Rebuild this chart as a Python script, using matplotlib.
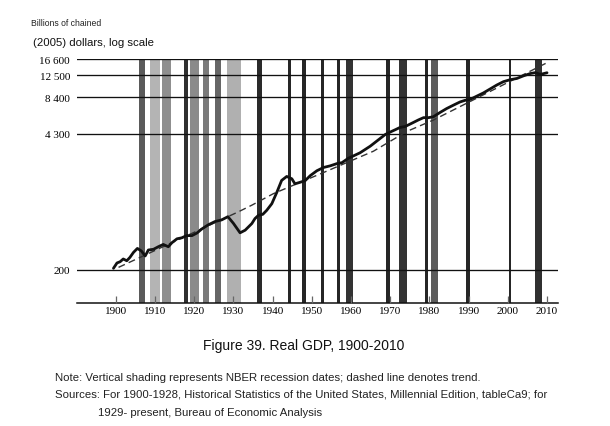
import numpy as np
import matplotlib
matplotlib.use("Agg")
import matplotlib.pyplot as plt

# ---------------- data ----------------
gdp_years = [1899.4, 1900.3, 1901.1, 1901.9, 1902.8, 1903.6, 1904.5, 1905.5, 1906.5, 1907.5,
             1908.3, 1909.6, 1910.9, 1912.1, 1913.4, 1914.3, 1915.6, 1916.8, 1918.1, 1919.4,
             1920.7, 1921.9, 1923.6, 1925.3, 1927.0, 1928.6, 1930.0, 1931.7, 1933.0, 1934.7,
             1935.5, 1936.4, 1937.5, 1938.5, 1939.8, 1941.1, 1942.3, 1943.6, 1944.9, 1945.7,
             1947.0, 1948.3, 1949.6, 1951.3, 1953.0, 1954.7, 1956.4, 1957.7, 1959.3, 1962.3,
             1964.9, 1967.4, 1968.7, 1970.0, 1971.3, 1972.5, 1973.8, 1975.5, 1977.2, 1978.5,
             1979.7, 1981.0, 1982.7, 1984.4, 1986.1, 1987.8, 1989.1, 1990.4, 1992.1, 1993.8,
             1995.5, 1997.2, 1998.9, 2000.6, 2002.3, 2004.0, 2005.7, 2007.0, 2008.3, 2010.0]
gdp_values = [211, 252, 262, 285, 270, 299, 345, 385, 360, 312,
              369, 376, 404, 428, 403, 447, 494, 506, 535, 534,
              569, 625, 690, 743, 771, 828, 713, 572, 609, 710,
              794, 854, 872, 951, 1095, 1391, 1757, 1900, 1815, 1642,
              1693, 1749, 1930, 2125, 2263, 2336, 2438, 2483, 2698, 2996,
              3394, 3915, 4215, 4420, 4616, 4812, 4898, 5200, 5531, 5765,
              5760, 5861, 6338, 6812, 7241, 7680, 7916, 8053, 8544, 9063,
              9733, 10453, 11105, 11500, 11761, 12332, 12844, 13065, 12659, 13037]

trend_years = [1900.7, 1931.3, 1934.7, 1940.2, 1953.0, 1965.7, 1974.2, 1981.0, 2010.0]
trend_values = [218, 922, 1061, 1347, 2053, 3085, 4464, 5515, 15622]

rec_start = [1906.0, 1908.6, 1911.7, 1917.5, 1918.8, 1922.2, 1925.3, 1928.3, 1936.0, 1943.9,
             1947.5, 1952.4, 1956.4, 1958.7, 1968.8, 1972.3, 1979.0, 1980.4, 1989.3, 2000.3, 2007.0]
rec_end = [1907.5, 1911.3, 1914.0, 1918.3, 1921.1, 1923.8, 1926.8, 1932.0, 1937.4, 1944.7,
           1948.5, 1953.2, 1957.2, 1960.4, 1970.0, 1974.2, 1979.7, 1982.1, 1990.3, 2000.9, 2008.7]
rec_shade = ["#5a5a5a", "#b4b4b4", "#8f8f8f", "#303030", "#8a8a8a", "#7a7a7a", "#666666",
             "#b0b0b0", "#2a2a2a", "#262626", "#262626", "#262626", "#262626", "#333333",
             "#262626", "#333333", "#262626", "#5c5c5c", "#262626", "#262626", "#303030"]

y_ticks = [200, 4300, 8400, 12500, 16600]
y_tick_labels = ["200", "4 300", "8 400", "12 500", "16 600"]
x_ticks = list(range(1900, 2011, 10))

# ---------------- figure ----------------
SANS = ["Liberation Sans", "DejaVu Sans"]
SERIF = ["Liberation Serif", "DejaVu Serif"]

fig = plt.figure(figsize=(6.1, 4.27), dpi=100)
fig.patch.set_facecolor("white")
ax = fig.add_axes([77 / 610, 1 - 304 / 427, (558 - 77) / 610, (304 - 60) / 427])

# the printed axis is logarithmic in (value + 200)
ax.set_yscale("function",
              functions=(lambda v: np.log10(np.clip(np.asarray(v, dtype=float) + 200.0, 1e-9, None)),
                         lambda u: 10 ** np.asarray(u, dtype=float) - 200.0))
ax.set_xlim(1890.1, 2012.8)
ax.set_ylim(22, 16700)

for s, e, c in zip(rec_start, rec_end, rec_shade):
    ax.axvspan(s, e, color=c, lw=0, zorder=1)

ax.plot(trend_years, trend_values, color="#333333", lw=1.0, dashes=(5, 3), zorder=2.8)
ax.plot(gdp_years, gdp_values, color="#111111", lw=2.0, solid_joinstyle="round",
        solid_capstyle="round", zorder=3)

ax.set_yticks(y_ticks)
ax.set_yticklabels(y_tick_labels, fontfamily=SERIF, fontsize=8)
ax.yaxis.grid(True, color="#111111", lw=0.95)
ax.set_axisbelow(False)
ax.tick_params(axis="y", length=0, pad=5)

ax.set_xticks(x_ticks)
ax.set_xticklabels([str(t) for t in x_ticks], fontfamily=SERIF, fontsize=8)
ax.tick_params(axis="x", direction="in", length=5, width=0.9, color="#666666", pad=2)

for side in ("left", "right", "top"):
    ax.spines[side].set_visible(False)
ax.spines["bottom"].set_linewidth(1.1)
ax.spines["bottom"].set_color("#111111")

fig.text(31 / 610, 1 - 24 / 427, "Billions of chained", fontsize=6.2, family=SANS,
         va="center", ha="left", color="#222222")
fig.text(33 / 610, 1 - 43 / 427, "(2005) dollars, log scale", fontsize=8.2, family=SANS,
         va="center", ha="left", color="#111111")

fig.text(304 / 610, 1 - 346 / 427, "Figure 39. Real GDP, 1900-2010", fontsize=10,
         family=SANS, ha="center", va="center", color="#111111")
fig.text(55 / 610, 1 - 378.5 / 427,
         "Note: Vertical shading represents NBER recession dates; dashed line denotes trend.",
         fontsize=8.2, family=SANS, ha="left", va="center", color="#222222")
fig.text(55 / 610, 1 - 395 / 427,
         "Sources: For 1900-1928, Historical Statistics of the United States, Millennial Edition, tableCa9; for",
         fontsize=8.2, family=SANS, ha="left", va="center", color="#222222")
fig.text(98 / 610, 1 - 413 / 427, "1929- present, Bureau of Economic Analysis",
         fontsize=8.2, family=SANS, ha="left", va="center", color="#222222")

fig.savefig("out.png", dpi=100, facecolor="white")
